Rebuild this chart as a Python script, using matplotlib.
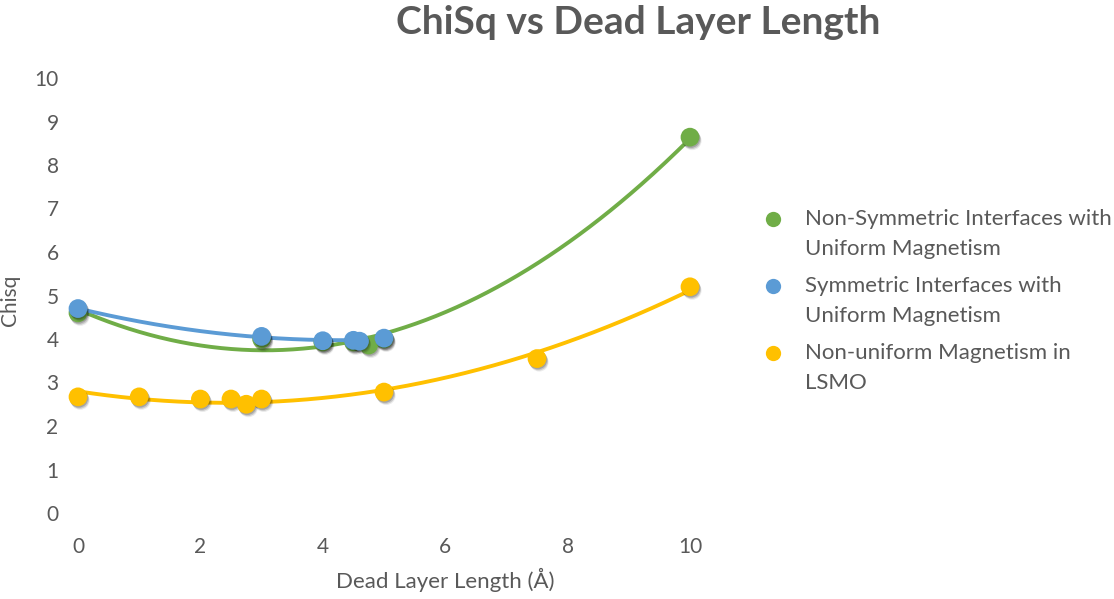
import numpy as np
import matplotlib
matplotlib.use("Agg")
import matplotlib.pyplot as plt
import matplotlib.patheffects as pe

# Dead layer length (Å) and fitted chi-squared for each model
x_nonsym = [0, 3, 4, 4.5, 4.75, 5, 10]
y_nonsym = [4.6, 4.0, 3.93, 3.93, 3.86, 4.0, 8.64]

x_sym = [0, 3, 4, 4.5, 4.6, 5]
y_sym = [4.7, 4.06, 3.96, 3.97, 3.95, 4.02]

x_nonuni = [0, 1, 2, 2.5, 2.75, 3, 5, 7.5, 10]
y_nonuni = [2.67, 2.67, 2.62, 2.62, 2.5, 2.62, 2.78, 3.55, 5.2]

labels = ["Non-Symmetric Interfaces with\nUniform Magnetism",
          "Symmetric Interfaces with\nUniform Magnetism",
          "Non-uniform Magnetism in\nLSMO"]
colors = ["#70AD47", "#5B9BD5", "#FFC000"]

x_ticks = [0, 2, 4, 6, 8, 10]
y_ticks = list(range(0, 11))

FONT = "Lato"
GREY = "#595959"
W, H = 1114, 599

fig = plt.figure(figsize=(W / 100, H / 100), dpi=100)
ax = fig.add_axes([78 / W, 1 - 513 / H, 612 / W, 435 / H])

# soft drop shadow under the markers
shadow = [pe.SimplePatchShadow(offset=(0.6, -1.0), shadow_rgbFace="black", alpha=0.18),
          pe.SimplePatchShadow(offset=(1.2, -1.8), shadow_rgbFace="black", alpha=0.14),
          pe.SimplePatchShadow(offset=(1.6, -2.6), shadow_rgbFace="black", alpha=0.08),
          pe.Normal()]

series = [(x_nonsym, y_nonsym), (x_sym, y_sym), (x_nonuni, y_nonuni)]

# Second-order polynomial trendlines over each series' range
for (xs, ys), col in zip(series, colors):
    xs = np.asarray(xs, float)
    ys = np.asarray(ys, float)
    coef = np.polyfit(xs, ys, 2)
    xx = np.linspace(xs.min(), xs.max(), 300)
    ax.plot(xx, np.polyval(coef, xx), "-", color=col, linewidth=2.8,
            solid_capstyle="round", clip_on=False, zorder=2)

for (xs, ys), col in zip(series, colors):
    ax.plot(xs, ys, "o", color=col, markersize=13.5, markeredgewidth=0,
            clip_on=False, zorder=3, path_effects=shadow)

ax.set_xlim(0, 10)
ax.set_ylim(0, 10)
ax.set_xticks(x_ticks)
ax.set_yticks(y_ticks)
for s in ax.spines.values():
    s.set_visible(False)
ax.tick_params(length=0, labelsize=15, labelcolor=GREY)
ax.tick_params(axis="x", pad=17)
ax.tick_params(axis="y", pad=14)
for lab in ax.get_xticklabels() + ax.get_yticklabels():
    lab.set_fontfamily(FONT)

fig.text(445 / W, 1 - 580 / H, "Dead Layer Length (Å)", ha="center", va="center",
         fontsize=16, color=GREY, family=FONT)
fig.text(10 / W, 1 - 300 / H, "Chisq", ha="center", va="center", rotation=90,
         fontsize=15, color=GREY, family=FONT)
fig.text(638 / W, 1 - 22 / H, "ChiSq vs Dead Layer Length", ha="center", va="center",
         fontsize=28, color=GREY, family=FONT, fontweight="bold")

# Legend: marker beside the first line of each two-line entry
for i, (lab, col) in enumerate(zip(labels, colors)):
    y0 = 219 + 67 * i
    fig.add_artist(plt.Line2D([773 / W], [1 - y0 / H], marker="o", color=col,
                              markersize=11, markeredgewidth=0, linestyle="none"))
    for j, line in enumerate(lab.split("\n")):
        fig.text(805 / W, 1 - (y0 + 30 * j) / H, line, ha="left", va="center",
                 fontsize=16, color=GREY, family=FONT)

fig.savefig("out.png", dpi=100)
